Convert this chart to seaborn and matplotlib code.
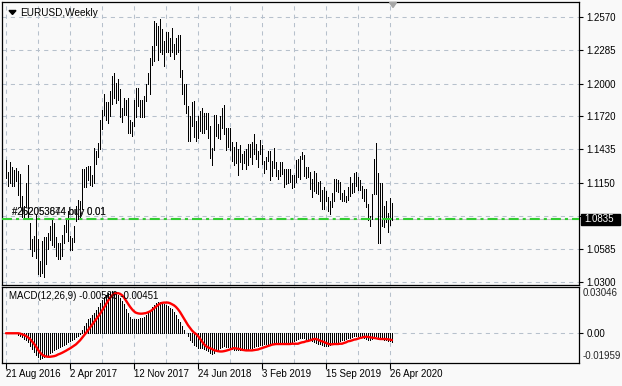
import numpy as np
import pandas as pd
import matplotlib
matplotlib.use("Agg")
import matplotlib.pyplot as plt
from matplotlib.patches import Rectangle, Polygon
import seaborn as sns

sns.set_theme(style="white")
plt.rcParams['font.family'] = ['Liberation Sans', 'DejaVu Sans']
plt.rcParams['lines.scale_dashes'] = False

# ---------------- data (weekly EURUSD, 21 Aug 2016 .. 3 May 2020) ----------------
high = [1.1342, 1.1240, 1.1327, 1.1283, 1.1258, 1.1278, 1.1252, 1.1222, 1.1038, 1.0947,
        1.1146, 1.1300, 1.0800, 1.0670, 1.0695, 1.0874, 1.0669, 1.0478, 1.0652, 1.0684,
        1.0685, 1.0718, 1.0775, 1.0829, 1.0800, 1.0680, 1.0631, 1.0630, 1.0699, 1.0783,
        1.0832, 1.0906, 1.0692, 1.0679, 1.0778, 1.0954, 1.0999, 1.0990, 1.1268, 1.1268,
        1.1283, 1.1296, 1.1296, 1.1220, 1.1445, 1.1426, 1.1490, 1.1684, 1.1777, 1.1910,
        1.1846, 1.1846, 1.1940, 1.2070, 1.2092, 1.2003, 1.2037, 1.1955, 1.1787, 1.1880,
        1.1860, 1.1880, 1.1689, 1.1673, 1.1861, 1.1961, 1.1961, 1.1860, 1.1863, 1.1895,
        1.2000, 1.2089, 1.2218, 1.2323, 1.2537, 1.2520, 1.2494, 1.2555, 1.2466, 1.2365,
        1.2446, 1.2446, 1.2388, 1.2477, 1.2339, 1.2396, 1.2414, 1.2414, 1.2120, 1.1995,
        1.1997, 1.1812, 1.1726, 1.1840, 1.1852, 1.1676, 1.1720, 1.1767, 1.1790, 1.1750,
        1.1750, 1.1745, 1.1633, 1.1445, 1.1733, 1.1734, 1.1650, 1.1722, 1.1790, 1.1815,
        1.1623, 1.1622, 1.1620, 1.1500, 1.1455, 1.1500, 1.1440, 1.1470, 1.1400, 1.1425,
        1.1440, 1.1486, 1.1486, 1.1497, 1.1570, 1.1480, 1.1420, 1.1515, 1.1470, 1.1340,
        1.1370, 1.1420, 1.1420, 1.1340, 1.1450, 1.1330, 1.1255, 1.1325, 1.1325, 1.1270,
        1.1265, 1.1265, 1.1265, 1.1215, 1.1215, 1.1348, 1.1350, 1.1380, 1.1410, 1.1385,
        1.1285, 1.1285, 1.1245, 1.1180, 1.1250, 1.1230, 1.1160, 1.1165, 1.1085, 1.1110,
        1.1075, 1.1030, 1.0990, 1.1063, 1.1180, 1.1180, 1.1175, 1.1160, 1.1060, 1.1090,
        1.1035, 1.1115, 1.1200, 1.1145, 1.1230, 1.1240, 1.1200, 1.1175, 1.1125, 1.1100,
        1.1095, 1.0970, 1.0865, 1.1053, 1.1355, 1.1495, 1.1237, 1.1147, 1.1147, 1.0950,
        1.0990, 1.0890, 1.1019, 1.0975]
low = [1.1187, 1.1123, 1.1144, 1.1122, 1.1123, 1.1161, 1.1048, 1.0951, 1.0859, 1.0850,
       1.0943, 1.0851, 1.0580, 1.0518, 1.0567, 1.0505, 1.0366, 1.0352, 1.0374, 1.0340,
       1.0453, 1.0577, 1.0660, 1.0619, 1.0600, 1.0520, 1.0494, 1.0494, 1.0524, 1.0630,
       1.0727, 1.0650, 1.0569, 1.0570, 1.0640, 1.0821, 1.0839, 1.0837, 1.0920, 1.1109,
       1.1109, 1.1175, 1.1131, 1.1119, 1.1150, 1.1312, 1.1372, 1.1440, 1.1613, 1.1730,
       1.1688, 1.1662, 1.1723, 1.1823, 1.1880, 1.1838, 1.1860, 1.1718, 1.1669, 1.1730,
       1.1730, 1.1573, 1.1574, 1.1553, 1.1637, 1.1716, 1.1812, 1.1717, 1.1718, 1.1715,
       1.1850, 1.1995, 1.1915, 1.2164, 1.2193, 1.2336, 1.2206, 1.2275, 1.2259, 1.2154,
       1.2272, 1.2273, 1.2239, 1.2269, 1.2215, 1.2254, 1.2270, 1.2055, 1.1910, 1.1823,
       1.1750, 1.1510, 1.1510, 1.1640, 1.1541, 1.1508, 1.1530, 1.1590, 1.1577, 1.1575,
       1.1612, 1.1530, 1.1365, 1.1301, 1.1430, 1.1553, 1.1530, 1.1525, 1.1620, 1.1566,
       1.1430, 1.1460, 1.1430, 1.1335, 1.1300, 1.1315, 1.1215, 1.1330, 1.1267, 1.1320,
       1.1267, 1.1300, 1.1370, 1.1310, 1.1395, 1.1353, 1.1289, 1.1400, 1.1313, 1.1233,
       1.1270, 1.1340, 1.1176, 1.1210, 1.1275, 1.1210, 1.1183, 1.1210, 1.1226, 1.1110,
       1.1135, 1.1150, 1.1155, 1.1105, 1.1115, 1.1160, 1.1200, 1.1180, 1.1350, 1.1208,
       1.1190, 1.1200, 1.1100, 1.1027, 1.1080, 1.1065, 1.1050, 1.0990, 1.0925, 1.0927,
       1.0990, 1.0905, 1.0880, 1.0940, 1.0990, 1.1075, 1.1070, 1.1010, 1.0990, 1.0990,
       1.0980, 1.1000, 1.1040, 1.1065, 1.1070, 1.1125, 1.1085, 1.1085, 1.1020, 1.0990,
       1.0940, 1.0830, 1.0778, 1.0835, 1.1055, 1.1055, 1.0636, 1.0636, 1.0780, 1.0768,
       1.0810, 1.0727, 1.0791, 1.0827]
macd = [0, 0, 0, 0, 0, 0, -0.0009, -0.0020, -0.0027, -0.0036,
        -0.0047, -0.0060, -0.0087, -0.0104, -0.0124, -0.0142, -0.0158, -0.0169, -0.0166, -0.0158,
        -0.0149, -0.0140, -0.0131, -0.0122, -0.0113, -0.0104, -0.0098, -0.0089, -0.0082, -0.0075,
        -0.0069, -0.0060, -0.0053, -0.0047, -0.0038, -0.0027, -0.0016, -0.0004, 0.0020, 0.0047,
        0.0069, 0.0091, 0.0102, 0.0118, 0.0135, 0.0153, 0.0175, 0.0198, 0.0220, 0.0240,
        0.0255, 0.0266, 0.0273, 0.0275, 0.0273, 0.0264, 0.0251, 0.0235, 0.0213, 0.0191,
        0.0162, 0.0135, 0.0109, 0.0095, 0.0091, 0.0095, 0.0091, 0.0098, 0.0102, 0.0109,
        0.0122, 0.0135, 0.0153, 0.0171, 0.0189, 0.0202, 0.0206, 0.0206, 0.0202, 0.0195,
        0.0189, 0.0180, 0.0169, 0.0158, 0.0140, 0.0118, 0.0095, 0.0073, 0.0051, 0.0024,
        0.0002, -0.0020, -0.0042, -0.0060, -0.0075, -0.0087, -0.0098, -0.0100, -0.0100, -0.0102,
        -0.0109, -0.0120, -0.0131, -0.0138, -0.0131, -0.0120, -0.0109, -0.0098, -0.0091, -0.0087,
        -0.0091, -0.0093, -0.0098, -0.0102, -0.0107, -0.0109, -0.0111, -0.0111, -0.0109, -0.0109,
        -0.0107, -0.0104, -0.0100, -0.0095, -0.0091, -0.0087, -0.0082, -0.0078, -0.0075, -0.0073,
        -0.0071, -0.0069, -0.0069, -0.0067, -0.0067, -0.0064, -0.0064, -0.0067, -0.0069, -0.0069,
        -0.0067, -0.0064, -0.0060, -0.0056, -0.0049, -0.0042, -0.0036, -0.0031, -0.0029, -0.0031,
        -0.0036, -0.0042, -0.0047, -0.0053, -0.0060, -0.0064, -0.0069, -0.0073, -0.0078, -0.0082,
        -0.0084, -0.0082, -0.0078, -0.0071, -0.0064, -0.0060, -0.0056, -0.0051, -0.0047, -0.0042,
        -0.0038, -0.0033, -0.0029, -0.0024, -0.0020, -0.0018, -0.0016, -0.0018, -0.0022, -0.0029,
        -0.0036, -0.0042, -0.0044, -0.0038, -0.0024, -0.0020, -0.0024, -0.0033, -0.0038, -0.0042,
        -0.0047, -0.0051, -0.0053, -0.00566]
signal = [0, 0, 0, 0, 0, 0, 0, -0.0002, -0.0007, -0.0011,
          -0.0018, -0.0027, -0.0038, -0.0053, -0.0069, -0.0087, -0.0109, -0.0127, -0.0140, -0.0149,
          -0.0153, -0.0155, -0.0155, -0.0153, -0.0151, -0.0147, -0.0140, -0.0135, -0.0129, -0.0122,
          -0.0115, -0.0107, -0.0100, -0.0091, -0.0082, -0.0073, -0.0060, -0.0047, -0.0031, -0.0016,
          0.0002, 0.0020, 0.0038, 0.0056, 0.0073, 0.0091, 0.0109, 0.0127, 0.0149, 0.0169,
          0.0191, 0.0213, 0.0233, 0.0249, 0.0260, 0.0264, 0.0264, 0.0260, 0.0251, 0.0235,
          0.0215, 0.0195, 0.0175, 0.0158, 0.0144, 0.0135, 0.0131, 0.0129, 0.0129, 0.0131,
          0.0133, 0.0138, 0.0144, 0.0153, 0.0164, 0.0175, 0.0186, 0.0195, 0.0200, 0.0202,
          0.0202, 0.0202, 0.0198, 0.0191, 0.0184, 0.0173, 0.0158, 0.0140, 0.0118, 0.0095,
          0.0073, 0.0053, 0.0035, 0.0018, 0.0005, -0.0005, -0.0018, -0.0036, -0.0054, -0.0072,
          -0.0085, -0.0093, -0.0098, -0.0104, -0.0111, -0.0115, -0.0118, -0.0120, -0.0120, -0.0118,
          -0.0115, -0.0111, -0.0107, -0.0102, -0.0098, -0.0100, -0.0102, -0.0104, -0.0109, -0.0111,
          -0.0113, -0.0113, -0.0113, -0.0113, -0.0111, -0.0109, -0.0107, -0.0102, -0.0098, -0.0093,
          -0.0089, -0.0084, -0.0080, -0.0075, -0.0073, -0.0071, -0.0071, -0.0071, -0.0071, -0.0071,
          -0.0071, -0.0071, -0.0071, -0.0069, -0.0069, -0.0069, -0.0069, -0.0064, -0.0060, -0.0058,
          -0.0053, -0.0051, -0.0047, -0.0042, -0.0038, -0.0038, -0.0042, -0.0049, -0.0053, -0.0058,
          -0.0064, -0.0069, -0.0073, -0.0073, -0.0071, -0.0071, -0.0071, -0.0069, -0.0069, -0.0064,
          -0.0060, -0.0053, -0.0051, -0.0047, -0.0042, -0.0040, -0.0036, -0.0031, -0.0029, -0.0024,
          -0.0024, -0.0024, -0.0027, -0.0029, -0.0031, -0.0033, -0.0036, -0.0038, -0.0038, -0.0038,
          -0.0038, -0.0040, -0.0042, -0.00451]

price_ticks = [1.2570, 1.2285, 1.2000, 1.1720, 1.1435, 1.1150, 1.0865, 1.0585, 1.0300]
price_labels = ["1.2570", "1.2285", "1.2000", "1.1720", "1.1435", "1.1150", "", "1.0585", "1.0300"]
date_labels = ["21 Aug 2016", "2 Apr 2017", "12 Nov 2017", "24 Jun 2018",
               "3 Feb 2019", "15 Sep 2019", "26 Apr 2020"]
date_bars = [0, 32, 64, 96, 128, 160, 192]
grid_bars = list(range(0, 194, 16))
current_price = 1.0835
order_labels = ["#262053874 buy 0.01", "#252053644 buy 0.01"]
macd_top, macd_bottom = 0.03046, -0.01959
symbol_title = "EURUSD,Weekly"
macd_title = "MACD(12,26,9) -0.00566 -0.00451"

df = pd.DataFrame({"bar": np.arange(len(high)), "high": high, "low": low,
                   "macd": macd, "signal": signal})

# ---------------- layout (pixel based) ----------------
W, H = 622, 386
fig = plt.figure(figsize=(W / 100, H / 100), dpi=100)
bg = "#f9f9f9"
fig.patch.set_facecolor(bg)


def px_axes(l, t, r, b):
    return fig.add_axes([l / W, 1 - b / H, (r - l) / W, (b - t) / H])


ax = px_axes(2, 2, 579, 285)
ax2 = px_axes(2, 287, 579, 363)
for a in (ax, ax2):
    a.set_facecolor(bg)
    for s in a.spines.values():
        s.set_color("black")
        s.set_linewidth(0.9)
    a.set_xlim(-2, 286.5)

grid_kw = dict(color="#b7c1cc", lw=0.75, ls=(0, (3, 3)))
bar_lw = 0.6

# ---------------- main price panel ----------------
ax.set_ylim(1.02717, 1.27013)
ax.vlines(df["bar"], df["low"], df["high"], color="black", lw=bar_lw,
          antialiased=False, zorder=3)
ax.yaxis.tick_right()
ax.set_yticks(price_ticks)
ax.set_yticklabels(price_labels)
ax.set_xticks(grid_bars)
ax.set_xticklabels([])
ax.tick_params(axis="y", direction="out", length=3, width=0.8, color="black",
               labelsize=7, pad=2.5, labelcolor="black")
ax.tick_params(axis="x", length=0)
ax.grid(True, **grid_kw)
ax.set_xlabel("")
ax.set_ylabel("")

# bid line + order line
ax.axhline(current_price, color="#c4c4c4", lw=0.8, zorder=2)
ax.axhline(current_price, color="#32cd32", lw=1.5, ls=(0, (7.2, 2.9, 2.2, 2.9)), zorder=4)
for lbl in order_labels:
    ax.text(2.8, current_price + 0.0018, lbl, fontsize=7, color="#1a1a1a",
            va="bottom", ha="left", zorder=5)

# ---------------- MACD panel ----------------
ax2.set_ylim(macd_bottom, macd_top)
ax2.vlines(df["bar"], 0, df["macd"], color="black", lw=bar_lw, antialiased=False, zorder=3)
sns.lineplot(data=df, x="bar", y="signal", ax=ax2, color="red", lw=1.7,
             legend=False, zorder=4)
ax2.set_xlabel("")
ax2.set_ylabel("")
ax2.yaxis.tick_right()
ax2.set_yticks([0.0])
ax2.set_yticklabels(["0.00"])
ax2.tick_params(axis="y", direction="out", length=3, width=0.8, color="black",
                labelsize=7, pad=2.5, labelcolor="black")
ax2.set_xticks(date_bars)
ax2.set_xticklabels(date_labels, ha="left")
ax2.set_xticks(grid_bars, minor=True)
ax2.tick_params(axis="x", which="major", direction="out", length=4, width=0.8,
                color="black", labelsize=7, pad=0, labelcolor="black", bottom=True)
ax2.tick_params(axis="x", which="minor", length=0, bottom=False)
ax2.grid(True, which="both", axis="x", **grid_kw)
ax2.grid(True, which="major", axis="y", **grid_kw)
for lab in ax2.get_xticklabels():
    lab.set_horizontalalignment("left")

fig.text(583 / W, 1 - 293.5 / H, f"{macd_top:.5f}", fontsize=7, va="center", ha="left")
fig.text(582.5 / W, 1 - 356 / H, f"{macd_bottom:.5f}", fontsize=7, va="center", ha="left")

# ---------------- decorations ----------------
fig.add_artist(Polygon([[9 / W, 1 - 10.5 / H], [16 / W, 1 - 10.5 / H], [12.5 / W, 1 - 14.5 / H]],
                       closed=True, transform=fig.transFigure, color="black"))
fig.text(20 / W, 1 - 13 / H, symbol_title, fontsize=7.2, va="center", ha="left", color="black")
fig.text(9 / W, 1 - 296 / H, macd_title, fontsize=7, va="center", ha="left", color="black")

fig.add_artist(Polygon([[389.5 / W, 1 - 2.5 / H], [396.5 / W, 1 - 2.5 / H], [393 / W, 1 - 7.5 / H]],
                       closed=True, transform=fig.transFigure, color="#a6a6a6", zorder=6))

fig.add_artist(Rectangle((581 / W, 1 - 225 / H), 39 / W, 11 / H, transform=fig.transFigure,
                         facecolor="black", edgecolor="black", zorder=5))
fig.text(584.5 / W, 1 - 219.5 / H, f"{current_price:.4f}", fontsize=7, va="center",
         ha="left", color="white", zorder=6)

fig.savefig("out.png", dpi=100, facecolor=bg)
